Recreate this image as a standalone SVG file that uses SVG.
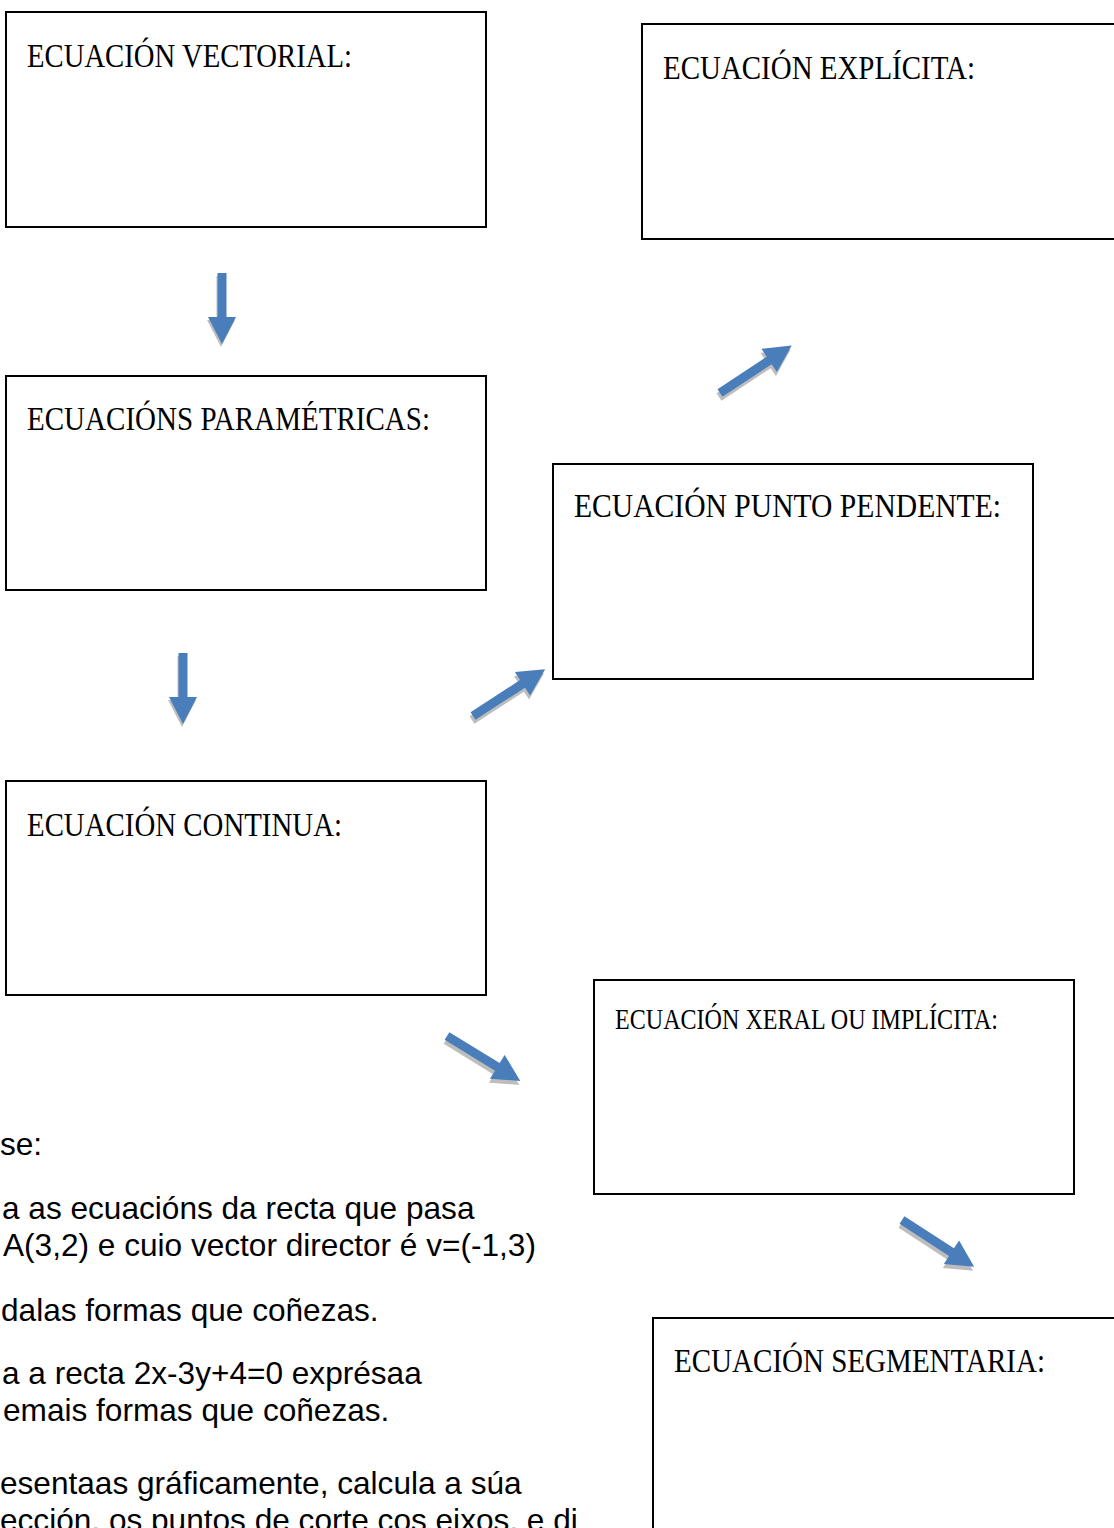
<svg xmlns="http://www.w3.org/2000/svg" xmlns:xlink="http://www.w3.org/1999/xlink" width="1114" height="1528" viewBox="0 0 1114 1528">
<style>
.box{fill:#fff;stroke:#000;stroke-width:2}
.lbl{font-family:"Liberation Serif","DejaVu Serif",serif;font-size:34px;fill:#000}
.sm{font-size:29px}
.body{font-family:"Liberation Sans",Arial,sans-serif;font-size:31.6px;fill:#000}
.arr{fill:#4a7ebb}
.sh{fill:#bdbdbd}
</style>
<defs>
<path id="down" d="M-4.5,0 L4.5,0 L4.5,44 L14,44 L0,71 L-14,44 L-4.5,44 Z"/>
<path id="diag" d="M0,-4.5 L59,-4.5 L59,-14 L86,0 L59,14 L59,4.5 L0,4.5 Z"/>
</defs>
<rect width="1114" height="1528" fill="#fff"/>
<g id="n1"><rect class="box" x="6" y="12" width="480" height="215"/><text class="lbl" x="27" y="67" textLength="325" lengthAdjust="spacingAndGlyphs">ECUACIÓN VECTORIAL:</text></g>
<g id="n2"><rect class="box" x="642" y="24" width="480" height="215"/><text class="lbl" x="663" y="79" textLength="312" lengthAdjust="spacingAndGlyphs">ECUACIÓN EXPLÍCITA:</text></g>
<g id="n3"><rect class="box" x="6" y="376" width="480" height="214"/><text class="lbl" x="27" y="430" textLength="403" lengthAdjust="spacingAndGlyphs">ECUACIÓNS PARAMÉTRICAS:</text></g>
<g id="n4"><rect class="box" x="553" y="464" width="480" height="215"/><text class="lbl" x="574" y="517" textLength="427" lengthAdjust="spacingAndGlyphs">ECUACIÓN PUNTO PENDENTE:</text></g>
<g id="n5"><rect class="box" x="6" y="781" width="480" height="214"/><text class="lbl" x="27" y="836" textLength="315" lengthAdjust="spacingAndGlyphs">ECUACIÓN CONTINUA:</text></g>
<g id="n6"><rect class="box" x="594" y="980" width="480" height="214"/><text class="lbl sm" x="615" y="1029" textLength="383" lengthAdjust="spacingAndGlyphs">ECUACIÓN XERAL OU IMPLÍCITA:</text></g>
<g id="n7"><rect class="box" x="653" y="1318" width="480" height="230"/><text class="lbl" x="674" y="1372" textLength="371" lengthAdjust="spacingAndGlyphs">ECUACIÓN SEGMENTARIA:</text></g>
<g id="connectors">
<use xlink:href="#down" class="sh" transform="translate(221,276)"/>
<use xlink:href="#down" class="arr" transform="translate(222,273)"/>
<use xlink:href="#down" class="sh" transform="translate(182,656)"/>
<use xlink:href="#down" class="arr" transform="translate(183,653)"/>
<use xlink:href="#diag" class="sh" transform="translate(719,397) rotate(-33.5)"/>
<use xlink:href="#diag" class="arr" transform="translate(720,393) rotate(-33.5)"/>
<use xlink:href="#diag" class="sh" transform="translate(472,720) rotate(-33)"/>
<use xlink:href="#diag" class="arr" transform="translate(473,716) rotate(-33)"/>
<use xlink:href="#diag" class="sh" transform="translate(446,1040) rotate(31.5)"/>
<use xlink:href="#diag" class="arr" transform="translate(447,1036) rotate(31.5)"/>
<use xlink:href="#diag" class="sh" transform="translate(901,1224) rotate(33)"/>
<use xlink:href="#diag" class="arr" transform="translate(902,1220) rotate(33)"/>
</g>
<g id="exercise">
<text class="body" x="0" y="1155">se:</text>
<text class="body" x="2" y="1219">a as ecuacións da recta que pasa</text>
<text class="body" x="3" y="1256">A(3,2) e cuio vector director é v=(-1,3)</text>
<text class="body" x="1" y="1321">dalas formas que coñezas.</text>
<text class="body" x="2" y="1384">a a recta 2x-3y+4=0 exprésaa</text>
<text class="body" x="3" y="1421">emais formas que coñezas.</text>
<text class="body" x="0" y="1494">esentaas gráficamente, calcula a súa</text>
<text class="body" x="0" y="1531">ección, os puntos de corte cos eixos, e di</text>
</g>
</svg>
